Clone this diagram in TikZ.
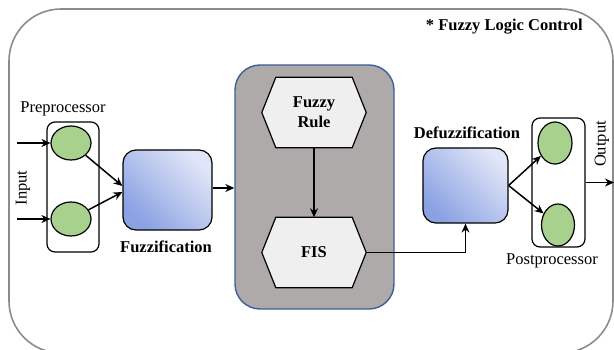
\documentclass[tikz,border=0pt]{standalone}
\usepackage{fontspec}
\setmainfont{Liberation Serif}
\usetikzlibrary{shapes.geometric,arrows.meta,calc}

\definecolor{framegray}{HTML}{8C8C8C}
\definecolor{blockgray}{HTML}{AEAAAA}
\definecolor{blockedge}{HTML}{3F5F96}
\definecolor{hexfill}{HTML}{EFEFEF}
\definecolor{nodegreen}{HTML}{A9D18E}
\definecolor{bluedark}{HTML}{8AA2E3}
\definecolor{bluelight}{HTML}{E0E5F7}

\tikzset{
  txt/.style={font=\rmfamily\fontsize{16.5}{20}\selectfont, inner sep=0pt, align=center},
  btxt/.style={txt, font=\rmfamily\fontsize{16.5}{20}\selectfont\bfseries},
  neuron/.style={ellipse, draw=black, line width=1.2pt, fill=nodegreen, inner sep=0pt},
  procbox/.style={draw=black, line width=1.2pt, rounded corners=8pt},
  gradbox/.style={draw=black, line width=1.2pt, rounded corners=13pt,
    top color=bluelight, bottom color=bluedark, shading angle=-45},
  hexlabel/.style={btxt, minimum width=104pt, minimum height=70pt},
  hexline/.style={draw=black, line width=1.2pt, fill=hexfill, line join=miter},
  arr/.style={line width=1.5pt, -{Stealth[length=9pt,width=8pt]}},
}

\begin{document}
\begin{tikzpicture}[x=1pt,y=-1pt]
  \useasboundingbox (0,0) rectangle (614,350);
  \begin{scope}
    \clip (0,0) rectangle (614,350);
    \draw[framegray, line width=1.6pt, rounded corners=52pt] (9,9) rectangle (613,353);
  \end{scope}

  \node[btxt, anchor=east] (title) at (583,27) {* Fuzzy Logic Control};

  % pre-processing stage
  \draw[procbox] (47,122) rectangle (99,252);
  \node[txt] (prelabel) at (63,109) {Preprocessor};
  \node[neuron, minimum width=40pt, minimum height=34pt] (pr1) at (71,143) {};
  \node[neuron, minimum width=40pt, minimum height=34pt] (pr2) at (71,219) {};
  \coordinate (in1) at (17,143);
  \coordinate (in2) at (17,219);
  \draw[arr] (in1) -- (pr1);
  \draw[arr] (in2) -- (pr2);
  \node[txt, rotate=90] (inlabel) at (23,188) {Input};

  % fuzzification
  \node[gradbox, minimum width=89pt, minimum height=80pt] (fuzz) at (167.5,190) {};
  \node[btxt] (fuzzlabel) at (166,247) {Fuzzification};
  \coordinate (fin1) at ($(fuzz.west)+(0,-4)$);
  \coordinate (fin2) at ($(fuzz.west)+(0,2)$);
  \draw[arr] (pr1) -- (fin1);
  \draw[arr] (pr2) -- (fin2);

  % inference block
  \node[draw=blockedge, fill=blockgray, line width=1.4pt, rounded corners=25pt,
        minimum width=159pt, minimum height=244pt] (engine) at (314.5,187) {};
  \coordinate (fout) at ($(fuzz.east)+(0,-2)$);
  \draw[arr] (fout) -- (fout -| engine.west);

  \node[hexlabel] (rule) at (314,112.5) {};
  \draw[hexline] (rule.west) -- ($(rule.north west)+(14,0)$) -- ($(rule.north east)+(-14,0)$)
    -- (rule.east) -- ($(rule.south east)+(-14,0)$) -- ($(rule.south west)+(14,0)$) -- cycle;
  \node[btxt] (ruletext) at (rule.center) {Fuzzy\\Rule};

  \node[hexlabel] (fis) at (314,252.5) {};
  \draw[hexline] (fis.west) -- ($(fis.north west)+(14,0)$) -- ($(fis.north east)+(-14,0)$)
    -- (fis.east) -- ($(fis.south east)+(-14,0)$) -- ($(fis.south west)+(14,0)$) -- cycle;
  \node[btxt] (fistext) at (fis.center) {FIS};

  \draw[arr] (rule.south) -- (fis.north);

  % defuzzification
  \node[gradbox, minimum width=85pt, minimum height=75pt] (defuzz) at (465.5,185.5) {};
  \node[btxt] (defuzzlabel) at (467,133) {Defuzzification};
  \draw[arr] (fis.east) -| (defuzz.south);

  % post-processing stage
  \node[procbox, minimum width=53pt, minimum height=129pt] (post) at (558.5,182.5) {};
  \node[txt] (postlabel) at (552,261) {Postprocessor};
  \node[neuron, minimum width=34pt, minimum height=42pt] (po1) at (555,143) {};
  \node[neuron, minimum width=33pt, minimum height=42pt] (po2) at (558,225) {};
  \draw[arr] (defuzz.east) -- (po1);
  \draw[arr] (defuzz.east) -- (po2);
  \coordinate (out) at (614,182.5);
  \draw[arr] (post.east) -- (out);
  \node[txt, rotate=90] (outlabel) at (602,144) {Output};
\end{tikzpicture}
\end{document}
